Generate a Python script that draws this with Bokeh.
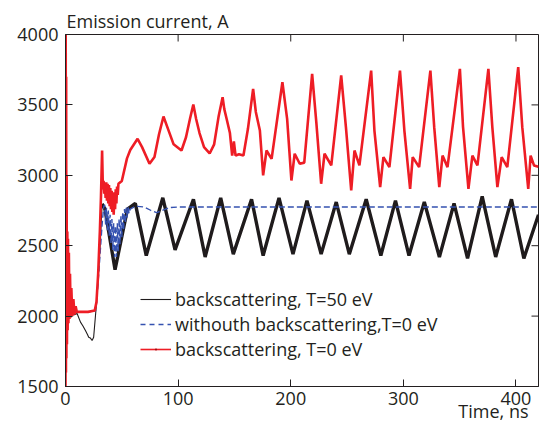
import math
from bokeh.plotting import figure
from bokeh.models import Range1d, FixedTicker, Title, Legend, LegendItem
from bokeh.embed import file_html
from bokeh.resources import INLINE

# ---------------- data ----------------
x_min, x_max = 0, 420
y_min, y_max = 1500, 4000
x_ticks = [0, 100, 200, 300, 400]
y_ticks = [1500, 2000, 2500, 3000, 3500, 4000]

# backscattering, T=50 eV (black) - initial transient
black_early_t = [0, 0.4, 0.8, 1.2, 1.6, 2.2, 3, 5, 8, 10.3, 13.3, 15.5, 17.7, 19.5,
                 20.6, 22, 23.6, 25, 28, 31, 32.5]
black_early_i = [3900, 2480, 2620, 2300, 2150, 2050, 2020, 2010, 2010, 2018, 1957, 1930,
                 1898, 1870, 1850, 1845, 1827, 1850, 2134, 2537, 2797]
# backscattering, T=50 eV (black) - oscillating part
black_osc_t = [32.5, 35, 44, 55, 62, 71.7, 86.4, 97.3, 113.6, 124, 137.8, 149, 165.2,
               175.5, 189.6, 202, 214.4, 227, 240.4, 252, 267, 280, 293, 305, 318.6,
               332, 345, 357, 370, 382, 396, 407, 420]
black_osc_i = [2797, 2760, 2330, 2760, 2800, 2430, 2840, 2470, 2830, 2420, 2840, 2440,
               2830, 2430, 2840, 2440, 2820, 2440, 2810, 2440, 2830, 2430, 2820, 2430,
               2810, 2420, 2800, 2410, 2850, 2420, 2830, 2410, 2720]

# withouth backscattering, T=0 eV (blue dashed)
blue_t = [0, 0.3, 0.7, 1.5, 3, 10, 20, 27, 29.5, 32.5, 34,
          34.8, 35.6, 36.4, 37.2, 38.0, 38.8, 39.6, 40.4, 41.2, 42.0, 42.8, 43.6,
          44.4, 45.2, 46.0, 46.8, 47.6, 48.4, 49.2, 50.0, 50.8, 51.6, 52.4, 53.2,
          54.0, 54.8, 55.6, 56.4,
          57.5, 62, 70, 76, 81, 86, 92, 100, 420]
blue_i = [3130, 2200, 2500, 2050, 2030, 2030, 2030, 2040, 2300, 2650, 2780,
          2790, 2650, 2770, 2610, 2750, 2570, 2720, 2520, 2690, 2470, 2660, 2420,
          2640, 2420, 2660, 2460, 2690, 2510, 2710, 2560, 2740, 2610, 2760, 2660,
          2770, 2700, 2780, 2730,
          2760, 2780, 2775, 2750, 2735, 2750, 2770, 2775, 2775]

# backscattering, T=0 eV (red)
red_t = [0, 0.2, 0.4, 0.6, 0.8, 1.0, 1.3, 1.6, 1.9, 2.2, 2.6, 3.0, 3.5, 4.0, 4.6, 5.2,
         6.0, 7.0, 8.0, 9.0, 10, 14, 20, 26, 27.5, 29, 30.5, 31.5, 32.5,
         33.2, 33.8, 34.4, 35.0, 35.6, 36.2, 36.8, 37.4, 38.0, 38.6, 39.2, 39.8,
         40.4, 41.0, 41.6, 42.2, 42.8, 43.4, 44.0, 44.6, 45.2, 45.8, 46.4, 47.0,
         50, 54.6, 57.5, 64, 68, 74.6, 79, 83, 87, 91, 96, 103, 107, 110.5, 113.5,
         116, 119, 123, 128, 132, 136, 139.5, 141, 143, 146, 148, 149.5, 151, 154,
         158, 162, 166.6, 169, 172.6, 175.5, 178.5, 183,
         192.6, 196.8, 200.6, 203.5, 208, 212,
         219, 222.7, 227, 230, 236,
         244.8, 249, 253.7, 256.6, 261,
         271.4, 274.3, 279.4, 282.3, 287.6,
         297, 300.9, 306, 308.3, 314,
         324, 327.4, 331.9, 334.8, 339.2,
         350.2, 353, 357.8, 361.3, 365.8,
         375.5, 379, 383.5, 387.3, 392.3,
         402, 405.6, 410.9, 413, 416, 420]
red_i = [1500, 4000, 1600, 3700, 1700, 3000, 1800, 2600, 1900, 2550, 1950, 2450, 1980,
         2300, 1990, 2200, 2000, 2120, 2010, 2070, 2030, 2030, 2030, 2040, 2100, 2300,
         2600, 2850, 3176,
         2900, 2960, 2870, 2950, 2840, 2950, 2820, 2940, 2800, 2930, 2780, 2910,
         2760, 2890, 2740, 2870, 2720, 2880, 2760, 2900, 2800, 2920, 2860, 2940,
         2960, 3120, 3180, 3259, 3200, 3082, 3130, 3290, 3418, 3330, 3220, 3176,
         3270, 3400, 3503, 3400, 3300, 3200, 3155, 3220, 3420, 3555, 3470, 3403,
         3300, 3140, 3240, 3140, 3150, 3140, 3330, 3614, 3450, 3318, 3000, 3176, 3117,
         3661, 3401, 2963, 3153, 3082, 3090,
         3721, 3377, 2940, 3153, 3070,
         3709, 3342, 2892, 3176, 3070,
         3744, 3318, 2916, 3129, 3058,
         3744, 3318, 2904, 3129, 3058,
         3744, 3342, 2916, 3140, 3058,
         3756, 3342, 2904, 3140, 3070,
         3756, 3342, 2916, 3129, 3058,
         3768, 3342, 2904, 3140, 3070, 3060]

legend_labels = ["backscattering, T=50 eV",
                 "withouth backscattering,T=0 eV",
                 "backscattering, T=0 eV"]
y_title = "Emission current, A"
x_title = "Time, ns"

# ---------------- styling ----------------
FONT = "Open Sans"
FS = "18px"
TXT = "#231f20"
BLACK = "#1f1b1c"
BLUE = "#3552b0"
RED = "#ee1d25"
NAN = float("nan")

p = figure(width=539, height=424, output_backend="svg", toolbar_location=None,
           x_range=Range1d(x_min, x_max), y_range=Range1d(y_min, y_max),
           min_border_left=65, min_border_right=1, min_border_top=34,
           min_border_bottom=38)
p.xgrid.visible = False
p.ygrid.visible = False
p.outline_line_color = TXT
p.outline_line_alpha = 1
p.outline_line_width = 1
p.background_fill_color = "white"
p.border_fill_color = "white"


def style_axis(ax, ticks):
    ax.ticker = FixedTicker(ticks=ticks)
    ax.major_tick_in = 7
    ax.major_tick_out = 0
    ax.minor_tick_in = 0
    ax.minor_tick_out = 0
    ax.axis_line_color = TXT
    ax.major_tick_line_color = TXT
    ax.major_label_text_font = FONT
    ax.major_label_text_color = TXT
    ax.major_label_text_font_size = FS


style_axis(p.xaxis[0], x_ticks)
p.xaxis[0].major_label_standoff = 5
style_axis(p.yaxis[0], y_ticks)
p.yaxis[0].major_label_standoff = 7

# mirrored inward ticks on the top and right edges (clipped to the frame)
p.scatter(x_ticks, [y_max] * len(x_ticks), marker="dash", angle=math.pi / 2,
          size=14, line_color=TXT, line_width=1)
p.scatter([x_max] * len(y_ticks), y_ticks, marker="dash", size=14,
          line_color=TXT, line_width=1)

# ---------------- curves ----------------
p.line(black_early_t, black_early_i, line_color=BLACK, line_width=1.1)
p.line(black_osc_t, black_osc_i, line_color=BLACK, line_width=3.4)
p.line(blue_t, blue_i, line_color=BLUE, line_width=1.4, line_dash="6 3")
p.line(red_t, red_i, line_color=RED, line_width=2.6)

# legend sample renderers (draw nothing in the plot)
lg_black = p.line([NAN], [NAN], line_color=BLACK, line_width=1.1)
lg_blue = p.line([NAN], [NAN], line_color=BLUE, line_width=1.3, line_dash="5 4")
lg_red = p.line([NAN], [NAN], line_color=RED, line_width=1.6)
lg_dot = p.scatter([NAN], [NAN], marker="dot", size=4, line_color="#a01015",
                   fill_color="#a01015")

legend = Legend(items=[LegendItem(label=legend_labels[0], renderers=[lg_black]),
                       LegendItem(label=legend_labels[1], renderers=[lg_blue]),
                       LegendItem(label=legend_labels[2], renderers=[lg_red, lg_dot])],
                location=(75, 25), border_line_alpha=0, background_fill_alpha=0,
                glyph_width=31, glyph_height=22, label_height=22, spacing=1,
                padding=0, margin=0, label_standoff=4,
                label_text_font=FONT, label_text_font_size=FS,
                label_text_color=TXT)
p.add_layout(legend)

# axis titles
p.title.text = y_title
p.title.align = "left"
p.title.offset = 1
p.title.standoff = 3
p.title.text_font = FONT
p.title.text_font_size = FS
p.title.text_font_style = "normal"
p.title.text_color = TXT

p.add_layout(Title(text=x_title, align="right", offset=10, standoff=-17,
                   vertical_align="top",
                   text_font=FONT, text_font_size=FS, text_font_style="normal",
                   text_color=TXT), "below")

open("out.html", "w").write(file_html(p, INLINE))
